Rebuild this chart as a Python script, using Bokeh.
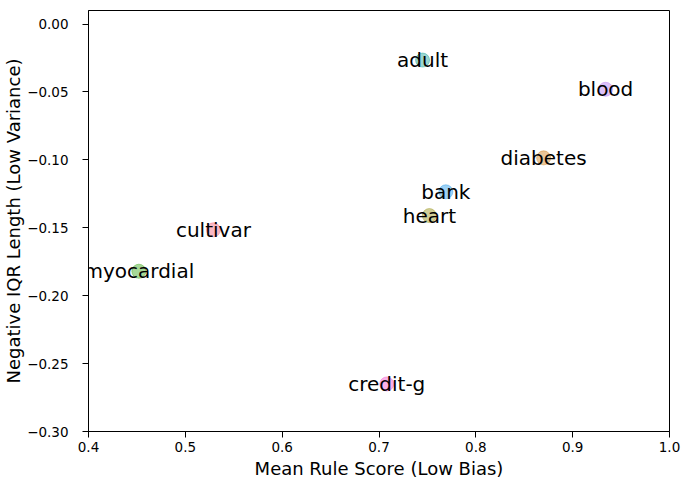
from bokeh.plotting import figure
from bokeh.models import ColumnDataSource, FixedTicker, Range1d, Label
from bokeh.embed import file_html
from bokeh.resources import INLINE

datasets = ["adult", "blood", "diabetes", "bank", "heart", "cultivar", "myocardial", "credit-g"]
mean_rule_score = [0.745, 0.934, 0.870, 0.769, 0.752, 0.529, 0.452, 0.708]
neg_iqr_length = [-0.0265, -0.048, -0.0985, -0.1235, -0.141, -0.1515, -0.182, -0.265]
palette = ["#36ada4", "#bb83f4", "#d58c32", "#3ba3ec", "#a4a031", "#f77189", "#50b131", "#f564d4"]

x_ticks = [0.4, 0.5, 0.6, 0.7, 0.8, 0.9, 1.0]
y_ticks = [0.0, -0.05, -0.10, -0.15, -0.20, -0.25, -0.30]

src = ColumnDataSource(dict(x=mean_rule_score, y=neg_iqr_length, name=datasets, color=palette))

p = figure(width=681, height=482, output_backend="svg", toolbar_location=None,
           x_range=Range1d(0.4, 1.0), y_range=Range1d(-0.30, 0.01),
           min_border_left=88, min_border_right=12, min_border_top=10, min_border_bottom=51)

p.scatter("x", "y", source=src, size=14, fill_color="color", line_color="color",
          fill_alpha=0.5, line_alpha=0.5)
for name, xv, yv in zip(datasets, mean_rule_score, neg_iqr_length):
    p.add_layout(Label(x=xv, y=yv, text=name, text_align="center", text_baseline="middle",
                       text_font="DejaVu Sans", text_font_size="20px", text_color="black"))

p.xgrid.visible = False
p.ygrid.visible = False
p.outline_line_color = "black"
p.outline_line_width = 1
p.outline_line_alpha = 1
p.background_fill_color = "white"
p.border_fill_color = "white"

p.xaxis.ticker = FixedTicker(ticks=x_ticks)
p.yaxis.ticker = FixedTicker(ticks=y_ticks)
p.xaxis.major_label_overrides = {t: f"{t:.1f}" for t in x_ticks}
p.yaxis.major_label_overrides = {t: f"{t:.2f}".replace("-", "\u2212") for t in y_ticks}

p.xaxis.axis_label = "Mean Rule Score (Low Bias)"
p.yaxis.axis_label = "Negative IQR Length (Low Variance)"

for ax in (p.xaxis, p.yaxis):
    ax.axis_label_text_font = "DejaVu Sans"
    ax.axis_label_text_font_size = "18px"
    ax.axis_label_text_font_style = "normal"
    ax.axis_label_text_color = "black"
    ax.major_label_text_font = "DejaVu Sans"
    ax.major_label_text_font_size = "13.5px"
    ax.major_label_text_color = "black"
    ax.major_tick_out = 6
    ax.major_tick_in = 0
    ax.minor_tick_line_color = None
    ax.axis_line_color = "black"
    ax.major_tick_line_color = "black"

p.yaxis.major_label_standoff = 14
p.yaxis.axis_label_standoff = 0
p.xaxis.major_label_standoff = 4
p.xaxis.axis_label_standoff = 3

open("out.html", "w").write(file_html(p, INLINE))
